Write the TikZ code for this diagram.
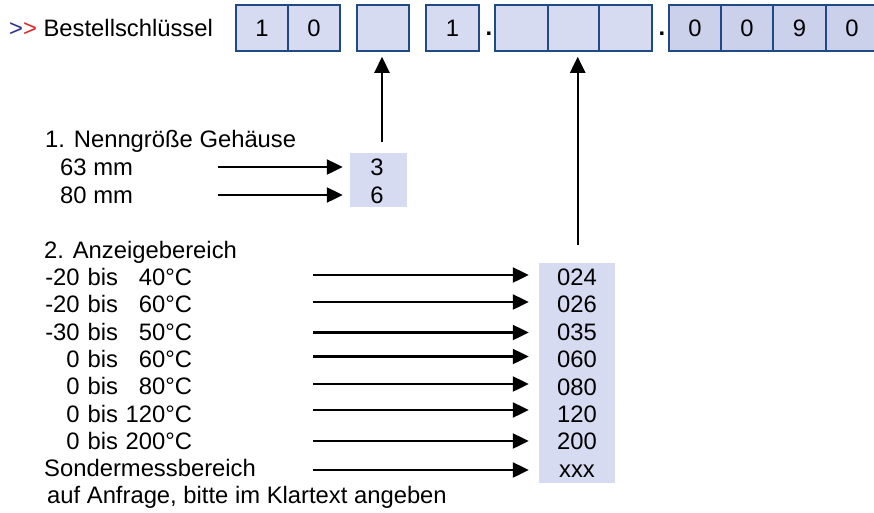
\documentclass[tikz,border=0pt]{standalone}
\usepackage{fontspec}
\setmainfont{Liberation Sans}
\usetikzlibrary{arrows.meta}
\definecolor{boxline}{HTML}{1F4A85}
\definecolor{boxfill}{HTML}{D7DBF1}
\definecolor{boxfilldk}{HTML}{CBD0EB}
\definecolor{gtblue}{HTML}{2E3192}
\definecolor{gtred}{HTML}{E0262B}
\begin{document}
\begin{tikzpicture}[x=1pt,y=-1pt,
  font=\fontsize{23.8}{28}\selectfont,
  keybox/.style={draw=boxline, line width=1.5pt, fill=boxfill, minimum height=46pt, minimum width=52pt, inner sep=0pt},
  keyboxdk/.style={keybox, fill=boxfilldk},
  valbox/.style={fill=boxfill, inner sep=0pt},
  txt/.style={anchor=base west, inner sep=0pt},
  val/.style={anchor=base, inner sep=0pt},
  arr/.style={-{Triangle[length=16pt,width=15pt]}, line width=2.2pt}]
\useasboundingbox (0,0) rectangle (874,512);
\clip (0,0) rectangle (874,512);

% header
\node[txt] (title) at (9,36) {{\color{gtblue}>}{\color{gtred}>} Bestellschlüssel};
\node[keybox] (b1) at (262,28) {1};
\node[keybox] (b2) at (314,28) {0};
\node[keybox] (b3) at (383,28) {};
\node[keybox, minimum width=53pt] (b4) at (452.5,28) {1};
\node[val] (d1) at (489,35) {\textbf{.}};
\node[keybox, minimum width=53pt] (b5) at (521.5,28) {};
\node[keybox, minimum width=51pt] (b6) at (573.5,28) {};
\node[keybox, minimum width=53pt] (b7) at (625.5,28) {};
\node[val] (d2) at (662,35) {\textbf{.}};
\node[keyboxdk] (b8) at (695,28) {0};
\node[keyboxdk] (b9) at (747,28) {0};
\node[keyboxdk, minimum width=53pt] (b10) at (799.5,28) {9};
\node[keyboxdk] (b11) at (852,28) {0};

% section 1
\node[txt] (h1) at (45,147) {1. Nenngröße Gehäuse};
\node[txt] (r11) at (60,175) {63 mm};
\node[txt] (r12) at (60,203) {80 mm};
\node[valbox, minimum width=57pt, minimum height=54pt] (g1) at (378.5,180) {};
\node[val] (v11) at (377,175) {3};
\node[val] (v12) at (377,203) {6};
\coordinate (p11) at (218,167);
\coordinate (p12) at (218,195);
\draw[arr, shorten >=7pt] (p11) -- (p11 -| g1.west);
\draw[arr, shorten >=7pt] (p12) -- (p12 -| g1.west);
\coordinate (q1) at (382,142);
\draw[arr, shorten >=5pt] (q1) -- (q1 |- b3.south);

% section 2
\node[txt] (h2) at (44,258) {2. Anzeigebereich};
\node[txt] (r21) at (47,285.5) {\makebox[32.5pt][r]{-20}\hspace{8pt}bis\makebox[74pt][r]{40°C}};
\node[txt] (r22) at (47,312.8) {\makebox[32.5pt][r]{-20}\hspace{8pt}bis\makebox[74pt][r]{60°C}};
\node[txt] (r23) at (47,340.1) {\makebox[32.5pt][r]{-30}\hspace{8pt}bis\makebox[74pt][r]{50°C}};
\node[txt] (r24) at (47,367.4) {\makebox[32.5pt][r]{0}\hspace{8pt}bis\makebox[74pt][r]{60°C}};
\node[txt] (r25) at (47,394.7) {\makebox[32.5pt][r]{0}\hspace{8pt}bis\makebox[74pt][r]{80°C}};
\node[txt] (r26) at (47,422) {\makebox[32.5pt][r]{0}\hspace{8pt}bis\makebox[74pt][r]{120°C}};
\node[txt] (r27) at (47,449.3) {\makebox[32.5pt][r]{0}\hspace{8pt}bis\makebox[74pt][r]{200°C}};
\node[txt] (r28) at (44,476.6) {Sondermessbereich};
\node[txt] (r29) at (47,503.9) {auf Anfrage, bitte im Klartext angeben};

\node[valbox, minimum width=76pt, minimum height=220pt] (g2) at (577,373) {};
\node[val] (v21) at (577,285) {024};
\node[val] (v22) at (577,312.5) {026};
\node[val] (v23) at (577,340) {035};
\node[val] (v24) at (577,367.5) {060};
\node[val] (v25) at (577,395) {080};
\node[val] (v26) at (577,422) {120};
\node[val] (v27) at (577,449.5) {200};
\node[val] (v28) at (577,477) {xxx};

\coordinate (p21) at (313,275);
\coordinate (p22) at (313,302);
\coordinate (p23) at (313,332.5);
\coordinate (p24) at (313,356.5);
\coordinate (p25) at (313,384);
\coordinate (p26) at (313,410);
\coordinate (p27) at (313,441);
\coordinate (p28) at (313,470);
\foreach \i in {1,...,8}{
  \draw[arr, shorten >=10pt] (p2\i) -- (p2\i -| g2.west);
}
\coordinate (q2) at (577.7,245);
\draw[arr, shorten >=5pt] (q2) -- (q2 |- b6.south);
\end{tikzpicture}
\end{document}
